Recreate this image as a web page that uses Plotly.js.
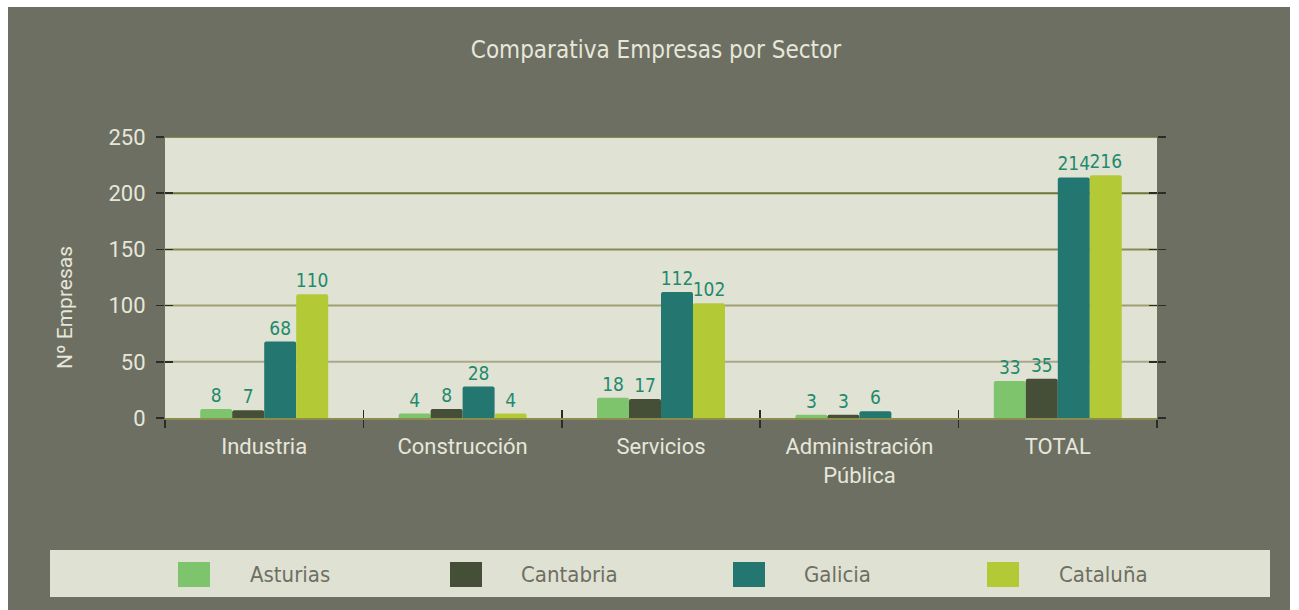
<!DOCTYPE html>
<html><head><meta charset="utf-8">
<script src="https://cdn.plot.ly/plotly-3.0.1.min.js"></script>
<style>html,body{margin:0;padding:0;background:#fff}#chart{width:1299px;height:610px}</style>
</head><body><div id="chart"></div>
<script>
const categories = ["Industria", "Construcción", "Servicios", "Administración<br>Pública", "TOTAL"];
const seriesNames = ["Asturias", "Cantabria", "Galicia", "Cataluña"];
const asturias = [8, 4, 18, 3, 33];
const cantabria = [7, 8, 17, 3, 35];
const galicia = [68, 28, 112, 6, 214];
const cataluna = [110, 4, 102, null, 216];
const yTicks = [0, 50, 100, 150, 200, 250];

const colors = ["#7dc46c", "#454f37", "#237770", "#b3ca36"];
const gridColors = ["#8b8c4e", "#aaa888", "#a09f72", "#8a8a55", "#6f7535", "#8a8d45"];
const values = [asturias, cantabria, galicia, cataluna];
const light = "#e6e7da";
const narrow = "DejaVu Sans Condensed, sans-serif";
const labelFont = {family: narrow, size: 19, color: "#1f8a6c"};

const traces = values.map((v, i) => ({
  type: "bar", name: seriesNames[i], x: categories, y: v,
  marker: {color: colors[i], cornerradius: 2, line: {width: 0}},
  text: v.map(d => d == null ? "" : String(d)), textposition: "outside", constraintext: "none",
  textfont: labelFont, cliponaxis: false, showlegend: false, hoverinfo: "x+y+name"
}));
traces.push({type: "scatter", x: [categories[0]], y: [0], xaxis: "x2", yaxis: "y2", mode: "markers",
  marker: {opacity: 0}, showlegend: false, hoverinfo: "skip"});

const L = 165, R = 1157, T = 137, B = 418, W = 1299, H = 610;
const pw = R - L, ph = B - T;
const px = x => (x - L) / pw;
const py = y => (B - y) / ph;

const shapes = [
  {type: "rect", xref: "paper", yref: "paper", x0: px(0), x1: px(W), y0: py(0), y1: py(7), fillcolor: "#ffffff", line: {width: 0}},
  {type: "rect", xref: "paper", yref: "paper", x0: px(0), x1: px(8), y0: py(0), y1: py(H), fillcolor: "#ffffff", line: {width: 0}},
  {type: "rect", xref: "paper", yref: "paper", x0: px(1290), x1: px(W), y0: py(0), y1: py(H), fillcolor: "#ffffff", line: {width: 0}},
  {type: "rect", xref: "paper", yref: "paper", x0: px(50), x1: px(1270), y0: py(550), y1: py(597), fillcolor: "#dfe1d3", line: {width: 0}}
];
yTicks.forEach((t, i) => {
  if (i === 0) return;
  shapes.push({type: "line", xref: "paper", yref: "y", x0: 0, x1: 1, y0: t, y1: t, layer: "below",
    line: {color: gridColors[i], width: 2}});
});
const annotations = [{xref: "paper", yref: "paper", x: px(65), y: py(308), xanchor: "center", yanchor: "middle",
  textangle: -90, text: "Nº Empresas", showarrow: false, font: {family: "Roboto, sans-serif", size: 21, color: light}}];
const swatchX = [178, 450, 733, 987];
const textX = [248, 519, 802, 1057];
seriesNames.forEach((n, i) => {
  shapes.push({type: "rect", xref: "paper", yref: "paper", x0: px(swatchX[i]), x1: px(swatchX[i] + 32),
    y0: py(587), y1: py(562), fillcolor: colors[i], line: {width: 0}});
  annotations.push({xref: "paper", yref: "paper", x: px(textX[i]), y: py(574), xanchor: "left", yanchor: "middle",
    text: n, showarrow: false, font: {family: narrow, size: 22, color: "#6d6f62"}});
});

const tickFont = {family: "Roboto, sans-serif", size: 22, color: light};
const layout = {
  width: W, height: H,
  margin: {l: L, r: W - R, t: T, b: H - B, pad: 0},
  paper_bgcolor: "#6d6f62", plot_bgcolor: "#e0e2d4",
  title: {text: "Comparativa Empresas por Sector", x: 0.505, xanchor: "center", y: 1 - 50 / H, yanchor: "middle",
    font: {family: narrow, size: 24, color: light}},
  barmode: "group", bargap: 0.355, bargroupgap: 0,
  font: {family: "Roboto, sans-serif", color: light},
  xaxis: {type: "category", tickson: "boundaries", ticks: "outside", ticklen: 8, tickcolor: "#2b2d25", tickwidth: 1.5,
    showline: true, linecolor: "#8b8c4e", linewidth: 2, showgrid: false, zeroline: false,
    tickfont: tickFont, ticklabelstandoff: 8},
  xaxis2: {type: "category", overlaying: "x", matches: "x", tickson: "boundaries", ticks: "inside", ticklen: 8,
    tickcolor: "#2b2d25", tickwidth: 1.5, showticklabels: false, showgrid: false, zeroline: false, showline: false},
  yaxis: {range: [0, 250], tickvals: yTicks, ticks: "outside", ticklen: 8, tickcolor: "#2b2d25", tickwidth: 1.5,
    mirror: "ticks", showline: false, showgrid: false, zeroline: false,
    tickfont: tickFont, ticklabelstandoff: 6},
  yaxis2: {overlaying: "y", range: [0, 250], tickvals: yTicks, ticks: "inside", ticklen: 8, tickcolor: "#2b2d25",
    tickwidth: 1.5, mirror: "ticks", showticklabels: false, showgrid: false, zeroline: false, showline: false},
  shapes: shapes, annotations: annotations, showlegend: false
};
Plotly.newPlot("chart", traces, layout, {displayModeBar: false, staticPlot: true});
</script></body></html>
